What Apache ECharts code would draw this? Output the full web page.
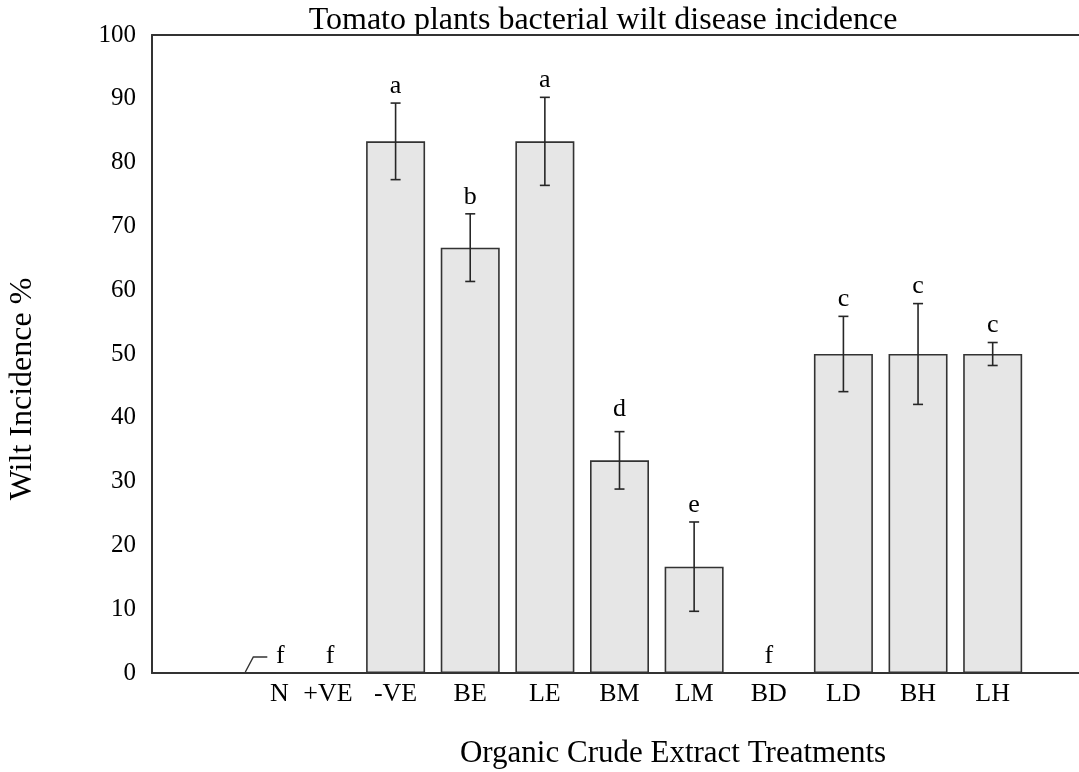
<!DOCTYPE html>
<html><head><meta charset="utf-8">
<script src="https://cdn.jsdelivr.net/npm/echarts@6/dist/echarts.min.js"></script>
<style>html,body{margin:0;padding:0;background:#fff}#c{width:1079px;height:772px}</style>
</head><body><div id="c"></div>
<script>
// ---- data ----
const categories = ['N', '+VE', '-VE', 'BE', 'LE', 'BM', 'LM', 'BD', 'LD', 'BH', 'LH'];
const incidence  = [0, 0, 83.33, 66.67, 83.33, 33.33, 16.67, 0, 50, 50, 50];
const errors     = [0, 0, 6.0, 5.3, 6.9, 4.5, 7.0, 0, 5.9, 7.9, 1.8];
const letters    = ['f', 'f', 'a', 'b', 'a', 'd', 'e', 'f', 'c', 'c', 'c'];
const yMin = 0, yMax = 100, yStep = 10;
const titleText = 'Tomato plants bacterial wilt disease incidence';
const xName = 'Organic Crude Extract Treatments';
const yName = 'Wilt Incidence %';

// ---- style ----
const FONT = "'Liberation Serif','Times New Roman',serif";
const INK = '#000';
const AX = '#333';
const letterShiftX = { 'N': 34, '+VE': 9 };
const letterShiftY = { 'BM': -5 };
const leaderCat = 'N';

const chart = echarts.init(document.getElementById('c'), null, { renderer: 'canvas' });

const option = {
  backgroundColor: '#fff',
  animation: false,
  grid: [
    { left: 152, right: 0, top: 35, bottom: 99 },
    { left: 209, right: 49, top: 35, bottom: 99 }
  ],
  xAxis: [
    { type: 'category', gridIndex: 0, data: [''], position: 'bottom',
      axisLine: { show: true, onZero: false, lineStyle: { color: AX, width: 2 } },
      axisTick: { show: false }, axisLabel: { show: false }, splitLine: { show: false } },
    { type: 'category', gridIndex: 0, data: [''], position: 'top',
      axisLine: { show: true, onZero: false, lineStyle: { color: AX, width: 2 } },
      axisTick: { show: false }, axisLabel: { show: false }, splitLine: { show: false } },
    { type: 'category', gridIndex: 1, data: categories, position: 'bottom',
      axisLine: { show: false }, axisTick: { show: false }, splitLine: { show: false },
      axisLabel: {
        show: true, margin: 8, interval: 0, color: INK, fontFamily: FONT, fontSize: 26,
        formatter: function (v) {
          if (v === 'N') return '{n|N}';
          if (v === '+VE') return '{p|+VE}';
          return v;
        },
        rich: {
          n: { fontFamily: FONT, fontSize: 26, color: INK, padding: [0, 0, 0, 66] },
          p: { fontFamily: FONT, fontSize: 26, color: INK, padding: [0, 0, 0, 14] }
        }
      } }
  ],
  yAxis: [
    { type: 'value', gridIndex: 0, min: yMin, max: yMax, interval: yStep,
      axisLine: { show: true, lineStyle: { color: AX, width: 2 } },
      axisTick: { show: false }, splitLine: { show: false },
      axisLabel: { margin: 16, color: INK, fontFamily: FONT, fontSize: 25 } },
    { type: 'value', gridIndex: 1, min: yMin, max: yMax, interval: yStep, show: false,
      splitLine: { show: false } }
  ],
  graphic: [
    { type: 'text', x: 603, y: 21, z: -1,
      style: { text: titleText, font: '32px ' + FONT, fill: INK, align: 'center', verticalAlign: 'middle' } },
    { type: 'text', x: 673, y: 754,
      style: { text: xName, font: '31px ' + FONT, fill: INK, align: 'center', verticalAlign: 'middle' } },
    { type: 'text', x: 23, y: 389, rotation: Math.PI / 2,
      style: { text: yName, font: '32px ' + FONT, fill: INK, align: 'center', verticalAlign: 'middle' } }
  ],
  series: [
    { type: 'bar', xAxisIndex: 2, yAxisIndex: 1, barWidth: 59, data: incidence,
      itemStyle: { color: '#e6e6e6', borderColor: '#333', borderWidth: 1.6 }, z: 2 },
    { type: 'custom', xAxisIndex: 2, yAxisIndex: 1, z: 5,
      data: categories.map(function (c, i) { return [i, incidence[i], errors[i]]; }),
      renderItem: function (params, api) {
        const i = params.dataIndex;
        const mean = api.value(1), err = api.value(2);
        const top = api.coord([i, mean + err]);
        const bot = api.coord([i, mean - err]);
        const st = { stroke: '#262626', lineWidth: 1.6 };
        const ch = [];
        if (err > 0) {
          ch.push({ type: 'line', shape: { x1: top[0], y1: top[1], x2: bot[0], y2: bot[1] }, style: st });
          ch.push({ type: 'line', shape: { x1: top[0] - 5, y1: top[1], x2: top[0] + 5, y2: top[1] }, style: st });
          ch.push({ type: 'line', shape: { x1: bot[0] - 5, y1: bot[1], x2: bot[0] + 5, y2: bot[1] }, style: st });
        }
        const c = categories[i];
        const sx = letterShiftX[c] || 0, sy = letterShiftY[c] || 0;
        ch.push({ type: 'text', x: top[0] + sx, y: top[1] - 4 + sy,
          style: { text: letters[i], font: '26px ' + FONT, fill: INK, align: 'center', verticalAlign: 'bottom' } });
        if (c === leaderCat) {
          ch.push({ type: 'polyline',
            shape: { points: [[top[0] - 1, top[1] - 1], [top[0] + 7, top[1] - 16], [top[0] + 21, top[1] - 16]] },
            style: { stroke: '#333', lineWidth: 1.4, fill: null } });
        }
        return { type: 'group', children: ch };
      } }
  ]
};
chart.setOption(option);
</script>
</body></html>
